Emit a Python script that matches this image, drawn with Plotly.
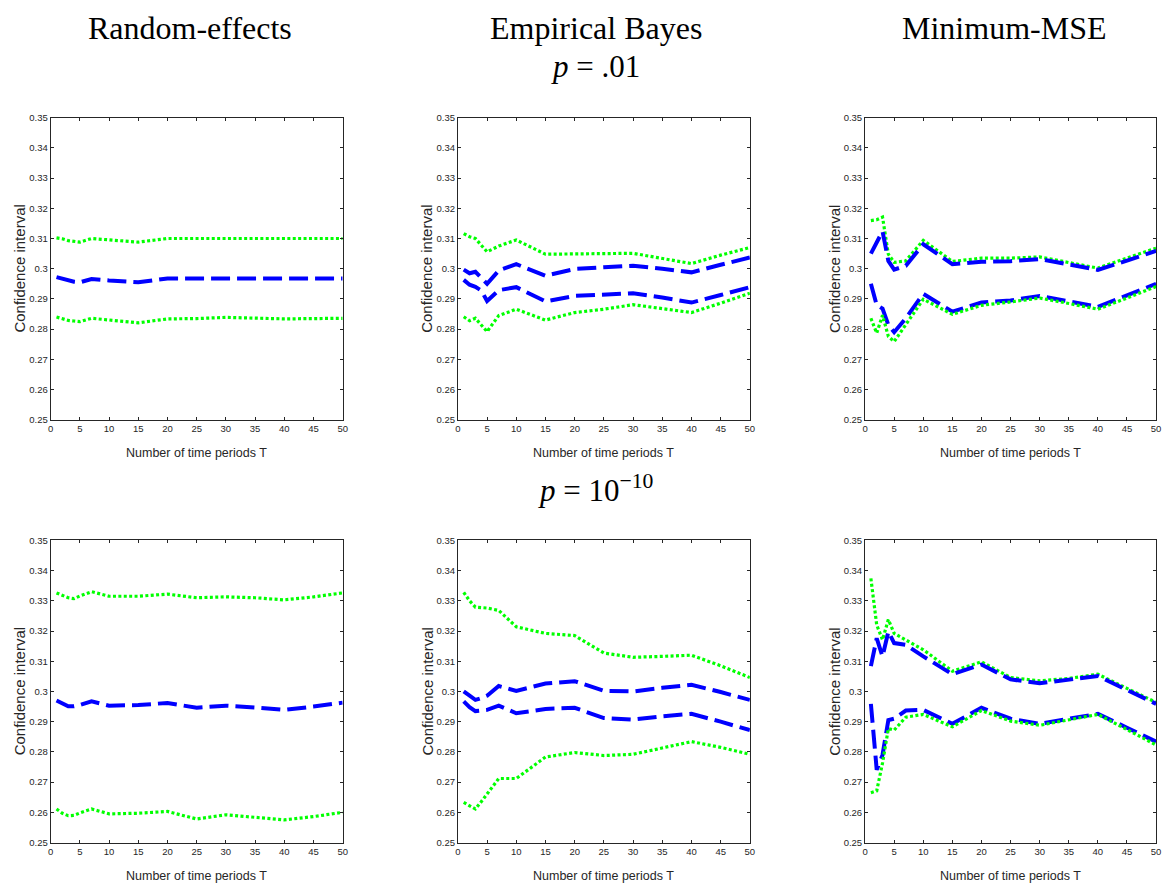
import plotly.graph_objects as go

# ---------------- data ----------------
T = [1, 2, 3, 4, 5, 7, 10, 15, 20, 25, 30, 35, 40, 45, 50]

# p = .01
re_p01_upper = [0.3102, 0.3099, 0.3093, 0.3090, 0.3088, 0.3100, 0.3095, 0.3088, 0.3100, 0.3100, 0.3100, 0.3100, 0.3100, 0.3100, 0.3100]
re_p01_mid = [0.2972, 0.2966, 0.2960, 0.2957, 0.2955, 0.2966, 0.2961, 0.2955, 0.2968, 0.2968, 0.2969, 0.2969, 0.2968, 0.2968, 0.2968]
re_p01_lower = [0.2840, 0.2834, 0.2829, 0.2827, 0.2825, 0.2836, 0.2831, 0.2821, 0.2834, 0.2835, 0.2839, 0.2837, 0.2834, 0.2835, 0.2836]

eb_p01_upper_green = [0.3116, 0.3106, 0.3100, 0.3078, 0.3056, 0.3075, 0.3095, 0.3048, 0.3050, 0.3050, 0.3051, 0.3035, 0.3017, 0.3045, 0.3070]
eb_p01_upper_blue = [0.2997, 0.2985, 0.2990, 0.2970, 0.2950, 0.2994, 0.3015, 0.2977, 0.2999, 0.3005, 0.3010, 0.3000, 0.2988, 0.3013, 0.3037]
eb_p01_lower_blue = [0.2963, 0.2947, 0.2940, 0.2928, 0.2893, 0.2929, 0.2939, 0.2892, 0.2910, 0.2913, 0.2919, 0.2905, 0.2888, 0.2913, 0.2939]
eb_p01_lower_green = [0.2841, 0.2828, 0.2836, 0.2812, 0.2792, 0.2845, 0.2866, 0.2830, 0.2855, 0.2866, 0.2881, 0.2868, 0.2855, 0.2886, 0.2919]

mm_p01_upper_green = [0.3159, 0.3162, 0.3171, 0.3048, 0.3021, 0.3026, 0.3094, 0.3024, 0.3035, 0.3035, 0.3039, 0.3020, 0.3002, 0.3035, 0.3068]
mm_p01_upper_blue = [0.3050, 0.3086, 0.3124, 0.3026, 0.2997, 0.3010, 0.3081, 0.3015, 0.3023, 0.3025, 0.3032, 0.3014, 0.2996, 0.3027, 0.3059]
mm_p01_lower_blue = [0.2950, 0.2880, 0.2868, 0.2814, 0.2790, 0.2836, 0.2917, 0.2858, 0.2888, 0.2895, 0.2910, 0.2892, 0.2874, 0.2912, 0.2950]
mm_p01_lower_green = [0.2836, 0.2787, 0.2846, 0.2776, 0.2759, 0.2814, 0.2899, 0.2849, 0.2879, 0.2890, 0.2903, 0.2885, 0.2866, 0.2903, 0.2941]

# p = 1e-10
re_p10_upper = [0.3326, 0.3318, 0.3310, 0.3307, 0.3316, 0.3330, 0.3315, 0.3315, 0.3322, 0.3310, 0.3313, 0.3310, 0.3303, 0.3313, 0.3326]
re_p10_mid = [0.2970, 0.2960, 0.2951, 0.2951, 0.2955, 0.2967, 0.2953, 0.2955, 0.2962, 0.2946, 0.2953, 0.2947, 0.2939, 0.2950, 0.2963]
re_p10_lower = [0.2611, 0.2597, 0.2589, 0.2590, 0.2598, 0.2611, 0.2595, 0.2597, 0.2603, 0.2578, 0.2592, 0.2584, 0.2575, 0.2586, 0.2600]

eb_p10_upper_green = [0.3328, 0.3300, 0.3279, 0.3277, 0.3276, 0.3268, 0.3214, 0.3192, 0.3185, 0.3127, 0.3113, 0.3116, 0.3120, 0.3085, 0.3046]
eb_p10_upper_blue = [0.3000, 0.2985, 0.2972, 0.2978, 0.2986, 0.3018, 0.3002, 0.3026, 0.3034, 0.3002, 0.3000, 0.3012, 0.3022, 0.2998, 0.2972]
eb_p10_lower_blue = [0.2967, 0.2948, 0.2935, 0.2937, 0.2939, 0.2953, 0.2928, 0.2942, 0.2946, 0.2912, 0.2907, 0.2918, 0.2926, 0.2900, 0.2872]
eb_p10_lower_green = [0.2633, 0.2622, 0.2611, 0.2635, 0.2660, 0.2712, 0.2712, 0.2783, 0.2798, 0.2788, 0.2792, 0.2812, 0.2834, 0.2815, 0.2792]

mm_p10_upper_green = [0.3374, 0.3220, 0.3171, 0.3238, 0.3192, 0.3171, 0.3138, 0.3067, 0.3098, 0.3046, 0.3035, 0.3043, 0.3057, 0.3010, 0.2964]
mm_p10_upper_blue = [0.3084, 0.3176, 0.3116, 0.3198, 0.3160, 0.3154, 0.3116, 0.3057, 0.3089, 0.3040, 0.3027, 0.3040, 0.3051, 0.3005, 0.2959]
mm_p10_lower_blue = [0.2959, 0.2741, 0.2790, 0.2905, 0.2910, 0.2937, 0.2939, 0.2893, 0.2946, 0.2910, 0.2893, 0.2910, 0.2926, 0.2880, 0.2834]
mm_p10_lower_green = [0.2665, 0.2671, 0.2763, 0.2877, 0.2872, 0.2915, 0.2924, 0.2883, 0.2937, 0.2902, 0.2888, 0.2905, 0.2924, 0.2874, 0.2823]

x_tick_vals = [0, 5, 10, 15, 20, 25, 30, 35, 40, 45, 50]
y_tick_vals = [0.25, 0.26, 0.27, 0.28, 0.29, 0.30, 0.31, 0.32, 0.33, 0.34, 0.35]
y_tick_text = ["0.25", "0.26", "0.27", "0.28", "0.29", "0.3", "0.31", "0.32", "0.33", "0.34", "0.35"]

column_titles = ["Random-effects", "Empirical Bayes", "Minimum-MSE"]
row_titles = ["<i>p</i> = .01", "<i>p</i> = 10<sup>\u221210</sup>"]
x_title = "Number of time periods T"
y_title = "Confidence interval"

# ---------------- layout geometry ----------------
W, H = 1171, 893
col_px = [(48, 342), (458, 752), (868, 1161)]
row_px = [(113, 419), (541, 847)]

BLUE = "#0000FF"
GREEN = "#00FF00"
AX = "#262626"
SERIF = "Liberation Serif, Times New Roman, serif"

panels = [
    (0, 0, [(re_p01_upper, "g"), (re_p01_mid, "b"), (re_p01_lower, "g")]),
    (0, 1, [(eb_p01_upper_green, "g"), (eb_p01_upper_blue, "b"), (eb_p01_lower_blue, "b"), (eb_p01_lower_green, "g")]),
    (0, 2, [(mm_p01_upper_green, "g"), (mm_p01_upper_blue, "b"), (mm_p01_lower_blue, "b"), (mm_p01_lower_green, "g")]),
    (1, 0, [(re_p10_upper, "g"), (re_p10_mid, "b"), (re_p10_lower, "g")]),
    (1, 1, [(eb_p10_upper_green, "g"), (eb_p10_upper_blue, "b"), (eb_p10_lower_blue, "b"), (eb_p10_lower_green, "g")]),
    (1, 2, [(mm_p10_upper_green, "g"), (mm_p10_upper_blue, "b"), (mm_p10_lower_blue, "b"), (mm_p10_lower_green, "g")]),
]

fig = go.Figure()
layout = dict(
    width=W, height=H,
    margin=dict(l=0, r=0, t=0, b=0),
    paper_bgcolor="white", plot_bgcolor="white",
    showlegend=False,
    font=dict(family="Liberation Sans, Arial, sans-serif", color=AX),
)
annotations = []

for i, (r, c, series) in enumerate(panels):
    n = i + 1
    xa = "x" if n == 1 else f"x{n}"
    ya = "y" if n == 1 else f"y{n}"
    for vals, kind in series:
        if kind == "b":
            line = dict(color=BLUE, width=4, dash="19px,7px")
        else:
            line = dict(color=GREEN, width=3.2, dash="3px,2.4px")
        fig.add_trace(go.Scatter(x=T, y=vals, mode="lines", line=line,
                                 xaxis=xa, yaxis=ya, hoverinfo="skip"))
    x0, x1 = col_px[c]
    y0, y1 = row_px[r]
    dom_x = [x0 / W, x1 / W]
    dom_y = [1 - y1 / H, 1 - y0 / H]
    layout["xaxis" if n == 1 else f"xaxis{n}"] = dict(
        domain=dom_x, range=[0, 50], anchor=ya,
        tickvals=x_tick_vals, ticktext=[str(v) for v in x_tick_vals],
        ticks="inside", ticklen=3, tickcolor=AX, tickwidth=1,
        showline=True, linecolor=AX, linewidth=1, mirror="ticks",
        showgrid=False, zeroline=False,
        tickfont=dict(size=9.5, color=AX),
    )
    layout["yaxis" if n == 1 else f"yaxis{n}"] = dict(
        domain=dom_y, range=[0.25, 0.35], anchor=xa,
        tickvals=y_tick_vals, ticktext=y_tick_text,
        ticks="inside", ticklen=3, tickcolor=AX, tickwidth=1,
        showline=True, linecolor=AX, linewidth=1, mirror="ticks",
        showgrid=False, zeroline=False,
        tickfont=dict(size=9.5, color=AX),
    )
    annotations.append(dict(
        text=x_title, x=(x0 + x1) / 2 / W, y=1 - (y1 + 34) / H,
        xref="paper", yref="paper", showarrow=False,
        font=dict(size=12.5, color=AX), xanchor="center", yanchor="middle"))
    annotations.append(dict(
        text=y_title, x=(x0 - 31) / W, y=1 - (y0 + y1) / 2 / H,
        xref="paper", yref="paper", showarrow=False, textangle=-90,
        font=dict(size=15, color=AX), xanchor="center", yanchor="middle"))

title_x = [188, 597, 1008]
for t, tx in zip(column_titles, title_x):
    annotations.append(dict(
        text=t, x=tx / W, y=1 - 22 / H, xref="paper", yref="paper",
        showarrow=False, xanchor="center", yanchor="middle",
        font=dict(family=SERIF, size=32, color="black")))
for t, ty in zip(row_titles, [61, 489]):
    annotations.append(dict(
        text=t, x=597 / W, y=1 - ty / H, xref="paper", yref="paper",
        showarrow=False, xanchor="center", yanchor="middle",
        font=dict(family=SERIF, size=31, color="black")))

layout["annotations"] = annotations
fig.update_layout(**layout)
fig.write_html("out.html", config={"displayModeBar": False},
               post_script="document.body.style.margin='0';document.body.style.overflow='hidden';")
